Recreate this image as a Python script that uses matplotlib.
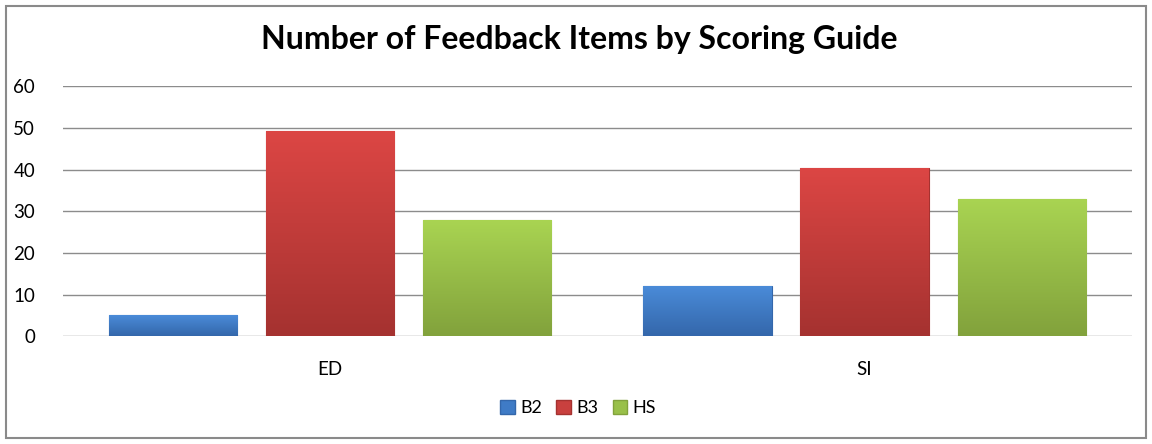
import matplotlib
matplotlib.use("Agg")
import matplotlib.pyplot as plt
import numpy as np
from matplotlib.patches import Rectangle, Patch
from matplotlib.colors import LinearSegmentedColormap

categories = ["ED", "SI"]
series = ["B2", "B3", "HS"]
b2_values = [5, 12]
b3_values = [49.2, 40.5]
hs_values = [28, 33]
y_ticks = [0, 10, 20, 30, 40, 50, 60]

values = [b2_values, b3_values, hs_values]
top_colors = ["#4A8BD8", "#DC4644", "#A9D452"]
bot_colors = ["#3467AB", "#A53230", "#82A23C"]
mid_colors = ["#3F7BC6", "#C9403E", "#99C049"]

plt.rcParams['font.family'] = ['Lato', 'DejaVu Sans']

fig = plt.figure(figsize=(11.52, 4.44), dpi=100)
ax = fig.add_axes([63/1152, 1-336.3/444, (1131.7-63)/1152, 250/444])

x = np.arange(len(categories))
width = 0.24
offsets = [-0.294, 0, 0.294]

for i, s in enumerate(series):
    bars = ax.bar(x + offsets[i], values[i], width, color=mid_colors[i],
                  edgecolor=bot_colors[i], linewidth=0.8, zorder=3, label=s)
    cmap = LinearSegmentedColormap.from_list(s, [top_colors[i], bot_colors[i]])
    for b in bars:
        x0, y0 = b.get_x(), b.get_y()
        w, h = b.get_width(), b.get_height()
        grad = np.linspace(0, 1, 100).reshape(-1, 1)
        im = ax.imshow(grad, cmap=cmap, aspect='auto',
                       extent=[x0, x0 + w, y0, y0 + h], zorder=3.5,
                       origin='upper')
        im.set_clip_path(b)

ax.set_xlim(-0.5, 1.5)
ax.set_ylim(0, 60)
ax.set_yticks(y_ticks)
ax.set_xticks(x)
ax.set_xticklabels(categories)
ax.yaxis.grid(True, color="#8C8C8C", linewidth=1.0, zorder=0)
ax.set_axisbelow(True)
for sp in ax.spines.values():
    sp.set_visible(False)
ax.tick_params(axis='both', length=0, labelsize=13.5, colors="black")
ax.tick_params(axis='y', pad=20)
ax.tick_params(axis='x', pad=18)

fig.text(579/1152, 1-40/444, "Number of Feedback Items by Scoring Guide",
         ha='center', va='center', fontsize=23, fontweight='bold')

handles = [Patch(facecolor=mid_colors[i], edgecolor=bot_colors[i], label=s)
           for i, s in enumerate(series)]
fig.legend(handles=handles, loc='center', bbox_to_anchor=(578/1152, 1-408/444),
           ncol=3, frameon=False, fontsize=13, handlelength=0.8, handleheight=0.8,
           handletextpad=0.3, columnspacing=0.8)

fig.patches.append(Rectangle((6/1152, 6/444), (1146-6)/1152, (438-6)/444,
                             transform=fig.transFigure, fill=False,
                             edgecolor="#8A8A8A", linewidth=1.5))

fig.savefig("out.png", dpi=100, facecolor="white")
